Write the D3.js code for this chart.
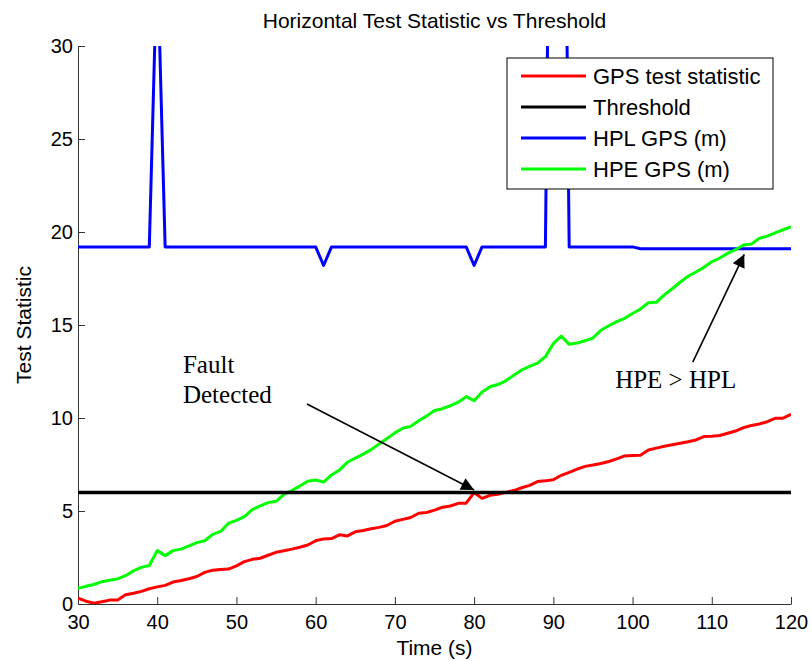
<!DOCTYPE html>
<html>
<head>
<meta charset="utf-8">
<script src="https://d3js.org/d3.v7.min.js"></script>
<style>
  body { margin: 0; background: #fff; }
  svg { display: block; font-family: Arial, "Liberation Sans", sans-serif; }
  .tick text { font-size: 20px; fill: #000; }
</style>
</head>
<body>
<div id="chart"></div>
<script>
// time stamps, one per second
var time = [30,31,32,33,34,35,36,37,38,39,40,41,42,43,44,45,46,47,48,49,50,51,52,53,54,55,56,57,58,59,
  60,61,62,63,64,65,66,67,68,69,70,71,72,73,74,75,76,77,78,79,80,81,82,83,84,85,86,87,88,89,
  90,91,92,93,94,95,96,97,98,99,100,101,102,103,104,105,106,107,108,109,110,111,112,113,114,115,116,117,118,119,120];

var gpsTest = [0.31,0.15,0.04,0.12,0.21,0.22,0.50,0.58,0.68,0.82,0.92,1.00,1.18,1.26,1.36,1.48,1.70,1.82,1.86,1.88,
  2.05,2.28,2.40,2.46,2.62,2.78,2.86,2.95,3.05,3.17,3.40,3.50,3.52,3.72,3.66,3.88,3.95,4.05,4.12,4.22,
  4.45,4.55,4.65,4.88,4.92,5.05,5.20,5.27,5.41,5.42,5.99,5.68,5.84,5.90,6.00,6.10,6.25,6.38,6.58,6.62,
  6.68,6.92,7.08,7.25,7.40,7.47,7.55,7.66,7.80,7.96,7.98,8.00,8.28,8.38,8.48,8.56,8.64,8.72,8.82,9.00,
  9.02,9.06,9.18,9.30,9.48,9.60,9.68,9.80,9.98,9.99,10.20];

var threshold = [6,6,6,6,6,6,6,6,6,6,6,6,6,6,6,6,6,6,6,6,6,6,6,6,6,6,6,6,6,6,
  6,6,6,6,6,6,6,6,6,6,6,6,6,6,6,6,6,6,6,6,6,6,6,6,6,6,6,6,6,6,
  6,6,6,6,6,6,6,6,6,6,6,6,6,6,6,6,6,6,6,6,6,6,6,6,6,6,6,6,6,6,6];

var hplGps = [19.2,19.2,19.2,19.2,19.2,19.2,19.2,19.2,19.2,19.2,35,19.2,19.2,19.2,19.2,19.2,19.2,19.2,19.2,19.2,
  19.2,19.2,19.2,19.2,19.2,19.2,19.2,19.2,19.2,19.2,19.2,18.2,19.2,19.2,19.2,19.2,19.2,19.2,19.2,19.2,
  19.2,19.2,19.2,19.2,19.2,19.2,19.2,19.2,19.2,19.2,18.2,19.2,19.2,19.2,19.2,19.2,19.2,19.2,19.2,19.2,
  60,60,19.2,19.2,19.2,19.2,19.2,19.2,19.2,19.2,19.2,19.1,19.1,19.1,19.1,19.1,19.1,19.1,19.1,19.1,
  19.1,19.1,19.1,19.1,19.1,19.1,19.1,19.1,19.1,19.1,19.1];

var hpeGps = [0.84,0.95,1.05,1.20,1.28,1.35,1.52,1.78,1.97,2.07,2.87,2.60,2.87,2.95,3.12,3.30,3.40,3.74,3.90,4.34,
  4.50,4.70,5.08,5.27,5.45,5.52,5.90,6.10,6.34,6.60,6.67,6.55,6.94,7.20,7.62,7.84,8.06,8.30,8.60,8.90,
  9.20,9.45,9.55,9.85,10.10,10.40,10.50,10.66,10.85,11.15,10.93,11.40,11.68,11.80,12.00,12.30,12.58,12.78,12.95,13.30,
  14.00,14.41,13.96,14.03,14.15,14.30,14.72,14.96,15.18,15.36,15.62,15.86,16.20,16.22,16.62,16.95,17.30,17.62,17.85,18.10,
  18.40,18.60,18.85,19.05,19.30,19.35,19.66,19.78,19.95,20.12,20.28];

var seriesNames = ["GPS test statistic", "Threshold", "HPL GPS (m)", "HPE GPS (m)"];
var seriesColors = ["#ff0000", "#000000", "#0000ff", "#00ff00"];
var xTicks = [30,40,50,60,70,80,90,100,110,120];
var yTicks = [0,5,10,15,20,25,30];

// annotations: [x1, y1, x2, y2] in data units
var faultArrow = [58.9, 10.75, 80.0, 6.13];
var hpeArrow = [107.6, 13.0, 114.1, 18.8];

var width = 812, height = 661;
var margin = { top: 46, right: 21, bottom: 57, left: 78 };
var w = width - margin.left - margin.right;
var h = height - margin.top - margin.bottom;

var svg = d3.select("#chart").append("svg")
  .attr("width", width)
  .attr("height", height);

svg.append("defs").append("clipPath").attr("id", "plot-clip")
  .append("rect").attr("width", w).attr("height", h);

var marker = svg.select("defs").append("marker")
  .attr("id", "arrowhead")
  .attr("viewBox", "0 0 10 10")
  .attr("refX", 10).attr("refY", 5)
  .attr("markerUnits", "userSpaceOnUse")
  .attr("markerWidth", 15).attr("markerHeight", 13)
  .attr("orient", "auto");
marker.append("path").attr("d", "M0,0L10,5L0,10Z").attr("fill", "#000");

var g = svg.append("g").attr("transform", "translate(" + margin.left + "," + margin.top + ")");

var x = d3.scaleLinear().domain([30, 120]).range([0, w]);
var y = d3.scaleLinear().domain([0, 30]).range([h, 0]);

// axes, matlab style: ticks pointing in, no box
var xAxis = g.append("g").attr("transform", "translate(0," + h + ")")
  .call(d3.axisBottom(x).tickValues(xTicks).tickSizeInner(-7).tickSizeOuter(0).tickPadding(13));
var yAxis = g.append("g")
  .call(d3.axisLeft(y).tickValues(yTicks).tickSizeInner(-7).tickSizeOuter(0).tickPadding(5));
[xAxis, yAxis].forEach(function (a) {
  a.select(".domain").attr("stroke", "#333");
  a.selectAll(".tick line").attr("stroke", "#333");
});
xAxis.selectAll(".tick text").attr("dy", "0.6em");

var allSeries = [gpsTest, threshold, hplGps, hpeGps];
var line = d3.line()
  .x(function (d, i) { return x(time[i]); })
  .y(function (d) { return y(d); });

var lines = g.append("g").attr("clip-path", "url(#plot-clip)");
// draw order: blue, green, red, black on top like the original
[2, 3, 0, 1].forEach(function (k) {
  lines.append("path")
    .datum(allSeries[k])
    .attr("fill", "none")
    .attr("stroke", seriesColors[k])
    .attr("stroke-width", k === 1 ? 3.5 : 3)
    .attr("stroke-linejoin", "round")
    .attr("d", line);
});

// title and axis labels
svg.append("text")
  .attr("x", margin.left + w / 2).attr("y", 28)
  .attr("text-anchor", "middle").attr("font-size", 21)
  .text("Horizontal Test Statistic vs Threshold");

svg.append("text")
  .attr("x", margin.left + w / 2).attr("y", 655)
  .attr("text-anchor", "middle").attr("font-size", 21)
  .text("Time (s)");

svg.append("text")
  .attr("transform", "translate(31," + (margin.top + h / 2) + ") rotate(-90)")
  .attr("text-anchor", "middle").attr("font-size", 21)
  .text("Test Statistic");

// annotations
[faultArrow, hpeArrow].forEach(function (a) {
  g.append("line")
    .attr("x1", x(a[0])).attr("y1", y(a[1]))
    .attr("x2", x(a[2])).attr("y2", y(a[3]))
    .attr("stroke", "#000").attr("stroke-width", 1.6)
    .attr("marker-end", "url(#arrowhead)");
});

var serif = "'Times New Roman', 'Liberation Serif', serif";
var fault = g.append("text")
  .attr("font-family", serif).attr("font-size", 25)
  .attr("x", x(43.25)).attr("y", y(12.4));
fault.append("tspan").attr("x", x(43.25)).text("Fault");
fault.append("tspan").attr("x", x(43.25)).attr("dy", 30).text("Detected");

g.append("text")
  .attr("font-family", serif).attr("font-size", 25)
  .attr("x", x(97.8)).attr("y", y(11.6))
  .text("HPE > HPL");

// legend
var legend = svg.append("g").attr("transform", "translate(507,58)");
legend.append("rect")
  .attr("width", 266).attr("height", 131)
  .attr("fill", "#fff").attr("stroke", "#000").attr("stroke-width", 1);

seriesNames.forEach(function (name, i) {
  var row = legend.append("g").attr("transform", "translate(0," + (18 + i * 31) + ")");
  row.append("line")
    .attr("x1", 14).attr("x2", 79)
    .attr("stroke", seriesColors[i]).attr("stroke-width", 3);
  row.append("text")
    .attr("x", 86).attr("dy", "0.35em")
    .attr("font-size", 22)
    .text(name);
});
</script>
</body>
</html>
